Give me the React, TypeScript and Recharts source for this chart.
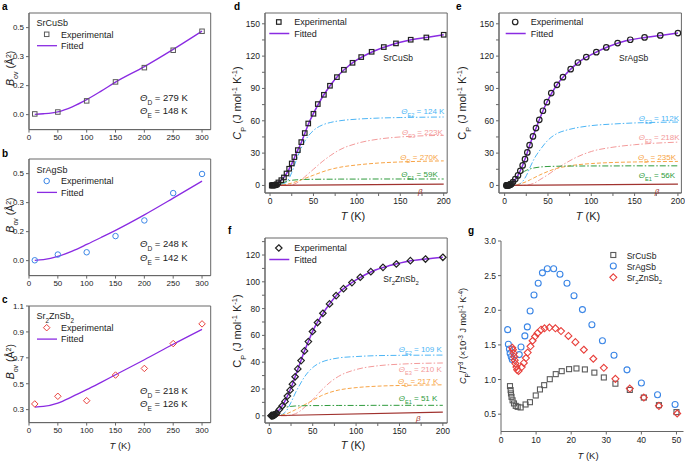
import React from "react";
import { ComposedChart, Line, Scatter, XAxis, YAxis, ReferenceArea } from "recharts";

const FONT = "'Liberation Sans', Arial, Helvetica, sans-serif";
const INK = "#222";
const AXIS = "#666";
const PURPLE = "#8a2be2";
const SKY = "#4cb5f5";
const PINK = "#f39a9a";
const ORANGE = "#f7a445";
const GREEN = "#2e9b3c";
const MAROON = "#a0322e";
const GREY = "#5a5a5a";
const BLUE = "#3b86e6";
const RED = "#e8403c";

// ---- a-c: B_ov vs T ----
const bTemp = [10, 50, 100, 150, 200, 250, 300];
const bExpCu = [0.004, 0.015, 0.079, 0.188, 0.27, 0.37, 0.479];
const bExpAg = [0.002, 0.035, 0.048, 0.141, 0.231, 0.388, 0.498];
const bExpZn = [0.344, 0.403, 0.369, 0.567, 0.618, 0.81, 0.962];
const bFitTemp = [10, 25, 50, 75, 100, 125, 150, 200, 250, 300];
const bFitCu = [0.002, 0.005, 0.016, 0.045, 0.086, 0.135, 0.187, 0.276, 0.375, 0.48];
const bFitAg = [0.002, 0.006, 0.024, 0.055, 0.093, 0.133, 0.174, 0.263, 0.359, 0.457];
const bFitZn = [0.32, 0.325, 0.351, 0.4, 0.454, 0.511, 0.569, 0.685, 0.805, 0.92];

// ---- d-f: Cp vs T ----
const lowT = [2, 2.5, 3, 3.5, 4, 4.5, 5, 5.5, 6, 7, 8];
const cuT = [...lowT, 9.6, 13, 16, 19, 22, 25, 28, 32, 36, 40, 44, 50, 55, 62, 69, 77, 85, 95, 105, 117, 131, 145, 162, 180, 200];
const cuCp = [0.02, 0.03, 0.05, 0.08, 0.12, 0.17, 0.24, 0.32, 0.42, 0.7, 1.1, 2.8, 4.9, 7.4, 11.1, 15.5, 20.4, 26.3, 32.8, 40.2, 48.6, 57.5, 66.5, 75.5, 84.1, 92.5, 100.5, 107.3, 113.8, 119.1, 124, 128.4, 131.8, 135.2, 137.3, 139.8];
const agT = [...lowT, 9.6, 12.3, 15.4, 18.1, 20.8, 23.5, 26.2, 28.8, 32.7, 36.2, 40, 44.2, 48.8, 53.8, 60.4, 67.3, 76.2, 84.6, 94.2, 105.8, 117.3, 130.4, 145, 161.5, 179.6, 200];
const agCp = [0.03, 0.05, 0.08, 0.12, 0.17, 0.25, 0.34, 0.45, 0.6, 0.95, 1.5, 3.1, 5.9, 9.3, 13.6, 18.6, 24.4, 30.6, 37.4, 45.5, 53.2, 60.9, 69.3, 77.3, 85.7, 93.4, 100.5, 107.9, 114.1, 119.1, 123.7, 128.1, 132.1, 135.2, 137.3, 139.2, 141.4];
const znT = [...lowT, 8.5, 11.6, 15, 18.1, 20.8, 23.9, 26.6, 29.7, 32.8, 36.6, 40.5, 45, 49.7, 55.5, 61.7, 69.4, 77, 85.5, 95.2, 104.8, 117, 131, 146.4, 162.6, 180, 200];
const znCp = [0.03, 0.05, 0.08, 0.12, 0.18, 0.26, 0.36, 0.48, 0.64, 1.0, 1.5, 2, 4.7, 7.5, 10.7, 14.7, 19.1, 23.6, 29.1, 35, 41.2, 48.4, 55.4, 62.9, 69.6, 76.5, 83.5, 89.7, 94.9, 99.4, 103.4, 107.6, 110.8, 113.3, 115.8, 117, 118.3];

const fitT = [0, 5, 10, 15, 20, 25, 30, 35, 40, 45, 50, 60, 70, 80, 90, 100, 120, 140, 160, 180, 200];
const cuFit = [0, 0.3, 3, 6.5, 12.3, 20, 29.4, 38, 48.2, 58.5, 66.8, 81.6, 93.5, 103.1, 110.6, 116.4, 124.8, 130.6, 134.7, 137.3, 139.8];
const agFit = [0, 0.4, 3.4, 8.8, 17.1, 27.8, 39.9, 50.6, 60.9, 70.7, 79.3, 93, 102.7, 110.7, 117, 121.4, 128.9, 134.2, 137.1, 139.2, 141.4];
const znFit = [0, 0.5, 3.3, 7.5, 13.5, 20.9, 29.6, 38.6, 47.5, 55.4, 63.2, 74.6, 84, 91.7, 97, 101.4, 108.3, 112.3, 115.4, 117, 118.3];

const partT = [0, 10, 15, 20, 25, 30, 35, 40, 50, 60, 70, 80, 100, 125, 150, 200];
const cuE2 = [0, 0.5, 1.5, 4, 12, 23, 33, 41, 51, 56, 58.5, 60, 61.5, 62.5, 63, 63.5];
const cuE3 = [0, 0, 0, 0, 0.5, 2, 4.5, 8, 15, 22, 28, 33, 39, 43, 45, 46.5];
const cuD = [0, 0.2, 0.5, 1.2, 2.2, 3.5, 5, 6.5, 9.5, 12.5, 15, 16.8, 19, 20.8, 21.8, 22.8];
const cuE1 = [0, 0.6, 2.5, 4, 4.8, 5.2, 5.4, 5.6, 5.7, 5.8, 5.8, 5.9, 5.9, 6, 6, 6];
const agE2 = [0, 0, 0.5, 3, 9, 18, 26, 32, 42, 48, 51, 53, 55.5, 57, 58, 58.8];
const agE3 = [0, 0, 0, 0, 0.3, 1, 2.5, 5, 10, 15.5, 20.5, 25, 31.5, 35.5, 37.8, 40.2];
const agD = [0, 0.3, 0.9, 2, 3.5, 5.5, 7.5, 9.5, 13, 15.8, 17.5, 18.8, 20.3, 21.3, 21.8, 22.3];
const agE1 = [0, 3, 7.5, 11.5, 14, 15.5, 16.4, 17, 17.6, 17.8, 18, 18, 18.1, 18.1, 18.2, 18.2];
const znE2 = [0, 0.2, 1, 4, 10, 17, 23, 28.5, 36, 40, 42, 43.2, 44.2, 44.9, 45.1, 45.3];
const znE3 = [0, 0, 0, 0, 0.5, 1.5, 3.3, 6, 12, 19, 25, 29.5, 34.5, 37.3, 38.5, 39.4];
const znD = [0, 0.2, 0.7, 1.5, 2.9, 4.5, 6.2, 8, 11.5, 15, 17.5, 19.2, 21, 22.1, 22.6, 23.1];
const znE1 = [0, 3.5, 5.5, 6.5, 7, 7.3, 7.4, 7.5, 7.6, 7.6, 7.7, 7.7, 7.7, 7.8, 7.8, 7.8];
const betaT = [0, 200];
const cuBeta = [0, 1.3];
const agBeta = [0, 1.3];
const znBeta = [0, 2.7];

// ---- g: Cp/T^3 ----
const gCuT = [2.56, 2.75, 2.85, 3.0, 3.3, 3.7, 4.2, 4.75, 5.6, 7.0, 8.25, 9.9, 11.1, 12.3, 13.9, 15.6, 17.3, 19.4, 21.5, 23.9, 26.6, 29.3, 32.6, 36.7, 40.7, 45, 50];
const gCuV = [0.905, 0.847, 0.8, 0.75, 0.7, 0.655, 0.62, 0.606, 0.597, 0.64, 0.673, 0.77, 0.857, 0.919, 1.005, 1.078, 1.121, 1.15, 1.16, 1.146, 1.1, 1.03, 0.94, 0.85, 0.74, 0.63, 0.53];
const gAgT = [1.9, 2.1, 2.4, 2.6, 2.9, 3.2, 5.2, 5.7, 6.8, 7.5, 8.3, 9.4, 10.6, 11.8, 13.2, 15.0, 16.8, 18.8, 20.8, 23.2, 25.9, 28.9, 32.2, 35.9, 40.0, 44.6, 49.6];
const gAgV = [1.72, 1.51, 1.44, 1.38, 1.33, 1.29, 1.36, 1.47, 1.63, 1.76, 1.99, 2.22, 2.39, 2.54, 2.6, 2.6, 2.52, 2.39, 2.21, 2.01, 1.79, 1.56, 1.35, 1.14, 0.95, 0.78, 0.64];
const gZnT = [3.2, 3.4, 3.6, 3.8, 3.9, 4.1, 4.4, 4.6, 5.0, 5.9, 6.5, 7.1, 7.6, 8.4, 9.0, 9.7, 10.4, 11.4, 12.4, 13.8, 15.5, 17.1, 19.2, 21.2, 23.6, 26.3, 29.3, 32.6, 36.7, 40.7, 45, 50.2];
const gZnV = [1.46, 1.43, 1.38, 1.33, 1.28, 1.23, 1.18, 1.14, 1.125, 1.18, 1.24, 1.31, 1.39, 1.48, 1.56, 1.62, 1.67, 1.72, 1.74, 1.75, 1.74, 1.7, 1.63, 1.54, 1.43, 1.3, 1.17, 1.01, 0.87, 0.74, 0.62, 0.51];

type Pt = { x: number; y: number };
const zip = (xs: number[], ys: number[]): Pt[] => xs.map((x, i) => ({ x, y: ys[i] }));

type Kind = "square" | "circle" | "diamond";
function marker(kind: Kind, cx: number, cy: number, s: number, color: string, sw = 1, key?: string | number) {
  if (kind === "square")
    return <rect key={key} x={cx - s / 2} y={cy - s / 2} width={s} height={s} fill="none" stroke={color} strokeWidth={sw} />;
  if (kind === "circle") return <circle key={key} cx={cx} cy={cy} r={s / 2} fill="none" stroke={color} strokeWidth={sw} />;
  const h = s / 2;
  return <path key={key} d={`M${cx},${cy - h}L${cx + h},${cy}L${cx},${cy + h}L${cx - h},${cy}Z`} fill="none" stroke={color} strokeWidth={sw} />;
}
const shapeOf = (kind: Kind, s: number, color: string, sw: number) => (p: any) =>
  p.cx == null ? <g /> : marker(kind, p.cx, p.cy, s, color, sw);

type Series =
  | { kind: "line"; data: Pt[]; color: string; width?: number; dash?: string; linear?: boolean }
  | { kind: "scatter"; data: Pt[]; color: string; marker: Kind; size: number; sw?: number };

interface PanelProps {
  rect: [number, number, number, number];
  xDomain: [number, number];
  yDomain: [number, number];
  xTicks: number[];
  yTicks: number[];
  xFmt: (v: number) => string;
  yFmt: (v: number) => string;
  series: Series[];
  frame?: boolean;
  tickFont?: number;
}

function Panel({ rect, xDomain, yDomain, xTicks, yTicks, xFmt, yFmt, series, frame = true, tickFont = 8 }: PanelProps) {
  const [L, T, R, B] = rect;
  const YW = 45, XH = 30, MT = 6, MR = 6;
  const tick = { fontSize: tickFont, fill: INK, fontFamily: FONT };
  return (
    <div style={{ position: "absolute", left: L - YW, top: T - MT }}>
      <ComposedChart width={R - L + YW + MR} height={B - T + MT + XH} margin={{ top: MT, right: MR, bottom: 0, left: 0 }}>
        <XAxis type="number" dataKey="x" domain={xDomain} ticks={xTicks} tickFormatter={xFmt} allowDataOverflow interval={0}
          height={XH} tick={tick} tickSize={3} tickMargin={2} axisLine={{ stroke: AXIS }} tickLine={{ stroke: AXIS }} />
        <YAxis type="number" dataKey="y" domain={yDomain} ticks={yTicks} tickFormatter={yFmt} allowDataOverflow interval={0}
          width={YW} tick={tick} tickSize={3} tickMargin={2} axisLine={{ stroke: AXIS }} tickLine={{ stroke: AXIS }} />
        {frame && (
          <ReferenceArea x1={xDomain[0]} x2={xDomain[1]} y1={yDomain[0]} y2={yDomain[1]} fill="none" stroke={AXIS} strokeWidth={1} ifOverflow="visible" />
        )}
        {series.map((s, i) =>
          s.kind === "line" ? (
            <Line key={i} data={s.data} dataKey="y" type={s.linear ? "linear" : "monotone"} stroke={s.color} strokeWidth={s.width ?? 1}
              strokeDasharray={s.dash} dot={false} activeDot={false} isAnimationActive={false} />
          ) : (
            <Scatter key={i} data={s.data} dataKey="y" shape={shapeOf(s.marker, s.size, s.color, s.sw ?? 1)} isAnimationActive={false} />
          )
        )}
      </ComposedChart>
    </div>
  );
}

const DASHDOT = "6 2 1.5 2";
const DASH = "4 2";

const cpSeries = (t: number[], cp: number[], fit: number[], e2: number[], e3: number[], d: number[], e1: number[], beta: number[], mk: Kind, size: number): Series[] => [
  { kind: "line", data: zip(partT, e2), color: SKY, dash: DASHDOT },
  { kind: "line", data: zip(partT, e3), color: PINK, dash: DASHDOT },
  { kind: "line", data: zip(partT, d), color: ORANGE, dash: DASH },
  { kind: "line", data: zip(partT, e1), color: GREEN, dash: DASHDOT },
  { kind: "line", data: zip(betaT, beta), color: MAROON, width: 1.2, linear: true },
  { kind: "line", data: zip(fitT, fit), color: PURPLE, width: 1.5 },
  { kind: "scatter", data: zip(t, cp), color: INK, marker: mk, size, sw: 1.2 },
];

const bFmt = (v: number) => v.toFixed(1);
const intFmt = (v: number) => String(v);
const every = (step: number) => (v: number) => (Math.abs(v / step - Math.round(v / step)) < 1e-6 ? String(v) : "");

const Sub = ({ children, fs }: { children: React.ReactNode; fs: number }) => (
  <tspan baselineShift="sub" fontSize={fs}>{children}</tspan>
);
const Sup = ({ children, fs }: { children: React.ReactNode; fs: number }) => (
  <tspan baselineShift="super" fontSize={fs}>{children}</tspan>
);

function Theta({ x, y, sub, rest, color = INK, fs = 8 }: { x: number; y: number; sub: string; rest: string; color?: string; fs?: number }) {
  return (
    <text x={x} y={y} fill={color} fontSize={fs}>
      <tspan fontStyle="italic">Θ</tspan>
      <Sub fs={fs * 0.7}>{sub}</Sub>
      <tspan>{rest}</tspan>
    </text>
  );
}

function VTitle({ x, y, fs, children }: { x: number; y: number; fs: number; children: React.ReactNode }) {
  return (
    <text transform={`translate(${x},${y}) rotate(-90)`} textAnchor="middle" fontSize={fs} fill={INK}>
      {children}
    </text>
  );
}

function XTitle({ x, y, fs }: { x: number; y: number; fs: number }) {
  return (
    <text x={x} y={y} textAnchor="middle" fontSize={fs} fill={INK}>
      <tspan fontStyle="italic">T</tspan> (K)
    </text>
  );
}

const BTitle = () => (
  <>
    <tspan fontStyle="italic">B</tspan>
    <Sub fs={7}>ov</Sub>
    <tspan> (Å</tspan>
    <Sup fs={7}>2</Sup>
    <tspan>)</tspan>
  </>
);
const CpTitle = ({ italic }: { italic: boolean }) => (
  <>
    <tspan fontStyle={italic ? "italic" : "normal"}>C</tspan>
    <Sub fs={7.5}>P</Sub>
    <tspan> (J mol</tspan>
    <Sup fs={7.5}>-1</Sup>
    <tspan> K</tspan>
    <Sup fs={7.5}>-1</Sup>
    <tspan>)</tspan>
  </>
);
const ZnName = ({ fs }: { fs: number }) => (
  <>
    <tspan>Sr</tspan>
    <Sub fs={fs * 0.7}>2</Sub>
    <tspan>ZnSb</tspan>
    <Sub fs={fs * 0.7}>2</Sub>
  </>
);

function LeftLegend({ dy, name, kind, color }: { dy: number; name: React.ReactNode; kind: Kind; color: string }) {
  return (
    <g fontSize={9} fill={INK}>
      <text x={36.5} y={26 + dy}>{name}</text>
      {marker(kind, 46.7, 34.3 + dy, kind === "diamond" ? 6.5 : kind === "circle" ? 5.5 : 4.5, color, 1)}
      <text x={61} y={37.5 + dy}>Experimental</text>
      <line x1={37} x2={57} y1={45.7 + dy} y2={45.7 + dy} stroke={PURPLE} strokeWidth={1.3} />
      <text x={61} y={49 + dy}>Fitted</text>
    </g>
  );
}

function CpLegend({ x0, y0, kind, size }: { x0: number; y0: number; kind: Kind; size: number }) {
  return (
    <g fontSize={9} fill={INK}>
      {marker(kind, x0 + 9.5, y0, size, INK, 1.2)}
      <text x={x0 + 25} y={y0 + 3.3}>Experimental</text>
      <line x1={x0} x2={x0 + 20} y1={y0 + 11.5} y2={y0 + 11.5} stroke={PURPLE} strokeWidth={1.5} />
      <text x={x0 + 25} y={y0 + 14.8}>Fitted</text>
    </g>
  );
}

export default function App() {
  const leftRect = (dy: number): [number, number, number, number] => [29.3, 12.7 + dy, 211, 129.3 + dy];
  const cpXTicks = [0, 25, 50, 75, 100, 125, 150, 175, 200];
  const dyTicks = [0, 15, 30, 45, 60, 75, 90, 105, 120, 135, 150];
  const fyTicks = [0, 10, 20, 30, 40, 50, 60, 70, 80, 90, 100, 110, 120, 130];
  return (
    <div style={{ position: "absolute", left: 0, top: 0, width: 685, height: 463, background: "#fff", fontFamily: FONT, overflow: "hidden" }}>
      {/* a */}
      <Panel rect={leftRect(0)} xDomain={[0, 315]} yDomain={[-0.086, 0.584]} xTicks={[0, 50, 100, 150, 200, 250, 300]}
        yTicks={[0, 1 / 6, 2 / 6, 0.5]} xFmt={intFmt} yFmt={bFmt}
        series={[
          { kind: "line", data: zip(bFitTemp, bFitCu), color: PURPLE, width: 1.3 },
          { kind: "scatter", data: zip(bTemp, bExpCu), color: GREY, marker: "square", size: 4.5 },
        ]} />
      {/* b */}
      <Panel rect={leftRect(146.7)} xDomain={[0, 315]} yDomain={[-0.086, 0.584]} xTicks={[0, 50, 100, 150, 200, 250, 300]}
        yTicks={[0, 1 / 6, 2 / 6, 0.5]} xFmt={intFmt} yFmt={bFmt}
        series={[
          { kind: "line", data: zip(bFitTemp, bFitAg), color: PURPLE, width: 1.3 },
          { kind: "scatter", data: zip(bTemp, bExpAg), color: BLUE, marker: "circle", size: 5.5 },
        ]} />
      {/* c */}
      <Panel rect={[29.3, 306.1, 211, 422.7]} xDomain={[0, 315]} yDomain={[0.2, 1.1]} xTicks={[0, 50, 100, 150, 200, 250, 300]}
        yTicks={[0.3, 0.5, 0.7, 0.9, 1.1]} xFmt={intFmt} yFmt={bFmt}
        series={[
          { kind: "line", data: zip(bFitTemp, bFitZn), color: PURPLE, width: 1.3 },
          { kind: "scatter", data: zip(bTemp, bExpZn), color: RED, marker: "diamond", size: 6.5 },
        ]} />
      {/* d */}
      <Panel rect={[264.5, 13.3, 446.7, 193.3]} xDomain={[-5.8, 204]} yDomain={[-7, 160]} xTicks={cpXTicks} yTicks={dyTicks}
        xFmt={every(50)} yFmt={every(30)} tickFont={8.5}
        series={cpSeries(cuT, cuCp, cuFit, cuE2, cuE3, cuD, cuE1, cuBeta, "square", 4.5)} />
      {/* e */}
      <Panel rect={[499.3, 13.3, 681.7, 193.3]} xDomain={[-6.5, 204]} yDomain={[-7, 160]} xTicks={cpXTicks} yTicks={dyTicks}
        xFmt={every(50)} yFmt={every(30)} tickFont={8.5}
        series={cpSeries(agT, agCp, agFit, agE2, agE3, agD, agE1, agBeta, "circle", 5.5)} />
      {/* f */}
      <Panel rect={[264.5, 238.3, 446.7, 423.3]} xDomain={[-5, 205]} yDomain={[-5.4, 132.7]} xTicks={cpXTicks} yTicks={fyTicks}
        xFmt={every(50)} yFmt={every(20)} tickFont={8.5}
        series={cpSeries(znT, znCp, znFit, znE2, znE3, znD, znE1, znBeta, "diamond", 6.5)} />
      {/* g */}
      <Panel rect={[500.5, 241, 683, 431.5]} xDomain={[0, 52]} yDomain={[0.25, 3.0]} xTicks={[0, 10, 20, 30, 40, 50]}
        yTicks={[0.5, 1.0, 1.5, 2.0, 2.5, 3.0]} xFmt={intFmt} yFmt={bFmt} frame={false} tickFont={8.5}
        series={[
          { kind: "scatter", data: zip(gCuT, gCuV), color: GREY, marker: "square", size: 5, sw: 1.1 },
          { kind: "scatter", data: zip(gAgT, gAgV), color: BLUE, marker: "circle", size: 6, sw: 1.1 },
          { kind: "scatter", data: zip(gZnT, gZnV), color: RED, marker: "diamond", size: 7, sw: 1.1 },
        ]} />

      <svg width={685} height={463} style={{ position: "absolute", left: 0, top: 0, pointerEvents: "none" }} fontFamily={FONT}>
        <g fontWeight="bold" fontSize={10} fill="#000">
          <text x={2} y={10}>a</text>
          <text x={2} y={156.7}>b</text>
          <text x={2} y={303.4}>c</text>
          <text x={234} y={10}>d</text>
          <text x={456} y={10}>e</text>
          <text x={228} y={234}>f</text>
          <text x={468} y={234}>g</text>
        </g>

        {/* a-c */}
        <LeftLegend dy={0} name="SrCuSb" kind="square" color={GREY} />
        <LeftLegend dy={146.7} name="SrAgSb" kind="circle" color={BLUE} />
        <LeftLegend dy={293.4} name={<ZnName fs={9} />} kind="diamond" color={RED} />
        {[
          ["279", "148", 0],
          ["248", "142", 146.7],
          ["218", "126", 293.4],
        ].map(([d, e, dy]) => (
          <g key={String(dy)}>
            <Theta x={140} y={100.5 + Number(dy)} sub="D" rest={` = ${d} K`} fs={9.5} />
            <Theta x={140} y={114 + Number(dy)} sub="E" rest={` = ${e} K`} fs={9.5} />
          </g>
        ))}
        <VTitle x={13.5} y={68.3} fs={10.5}><BTitle /></VTitle>
        <VTitle x={13.5} y={215} fs={10.5}><BTitle /></VTitle>
        <VTitle x={13.5} y={361.7} fs={10.5}><BTitle /></VTitle>
        <XTitle x={120} y={449} fs={9.5} />

        {/* d */}
        <CpLegend x0={269.3} y0={22} kind="square" size={4.5} />
        <text x={383.3} y={60.5} fontSize={8.5} fill={INK}>SrCuSb</text>
        <Theta x={401.3} y={113.5} sub="E2" rest=" = 124 K" color={SKY} />
        <Theta x={402} y={135} sub="E3" rest=" = 223K" color={PINK} />
        <Theta x={400.3} y={159.5} sub="D" rest=" = 270K" color={ORANGE} />
        <Theta x={401.3} y={176.8} sub="E1" rest=" = 59K" color={GREEN} />
        <text x={418} y={193.5} fontSize={8} fill={MAROON} fontStyle="italic">β</text>
        <VTitle x={241} y={103} fs={11}><CpTitle italic /></VTitle>
        <XTitle x={353} y={219.5} fs={11} />

        {/* e */}
        <CpLegend x0={505.7} y0={22} kind="circle" size={5.5} />
        <text x={619} y={60.5} fontSize={8.5} fill={INK}>SrAgSb</text>
        <Theta x={638.7} y={121} sub="E2" rest=" = 112K" color={SKY} />
        <Theta x={638.7} y={140} sub="E3" rest=" = 218K" color={PINK} />
        <Theta x={638} y={160} sub="D" rest=" = 235K" color={ORANGE} />
        <Theta x={638.7} y={177.5} sub="E1" rest=" = 56K" color={GREEN} />
        <text x={654.7} y={194} fontSize={8} fill={MAROON} fontStyle="italic">β</text>
        <VTitle x={466} y={103} fs={11}><CpTitle italic={false} /></VTitle>
        <XTitle x={588} y={219.5} fs={11} />

        {/* f */}
        <CpLegend x0={269.3} y0={248} kind="diamond" size={6.5} />
        <text x={383.3} y={281.5} fontSize={8.5} fill={INK}><ZnName fs={8.5} /></text>
        <Theta x={398.7} y={351.8} sub="E2" rest=" = 109 K" color={SKY} />
        <Theta x={398.7} y={372} sub="E3" rest=" = 210 K" color={PINK} />
        <Theta x={398} y={384} sub="D" rest=" = 217 K" color={ORANGE} />
        <Theta x={398.7} y={400.8} sub="E1" rest=" = 51 K" color={GREEN} />
        <text x={416} y={421} fontSize={8} fill={MAROON} fontStyle="italic">β</text>
        <VTitle x={241} y={331} fs={11}><CpTitle italic={false} /></VTitle>
        <XTitle x={353} y={449} fs={11} />

        {/* g */}
        <g fontSize={8.5} fill={INK}>
          {marker("square", 613.3, 255, 5, GREY, 1.1)}
          <text x={626.7} y={258.5}>SrCuSb</text>
          {marker("circle", 613.3, 266, 6, BLUE, 1.1)}
          <text x={626.7} y={269.5}>SrAgSb</text>
          {marker("diamond", 613.3, 277.3, 7, RED, 1.1)}
          <text x={626.7} y={281}><ZnName fs={8.5} /></text>
        </g>
        <VTitle x={466} y={336} fs={9}>
          <tspan fontStyle="italic">C</tspan>
          <Sub fs={6.5}>P</Sub>
          <tspan>/</tspan>
          <tspan fontStyle="italic">T</tspan>
          <Sup fs={6.5}>3</Sup>
          <tspan> (×10</tspan>
          <Sup fs={6.5}>-3</Sup>
          <tspan> J mol</tspan>
          <Sup fs={6.5}>-1</Sup>
          <tspan> K</tspan>
          <Sup fs={6.5}>-4</Sup>
          <tspan>)</tspan>
        </VTitle>
        <XTitle x={588} y={458.5} fs={9.5} />
      </svg>
    </div>
  );
}
